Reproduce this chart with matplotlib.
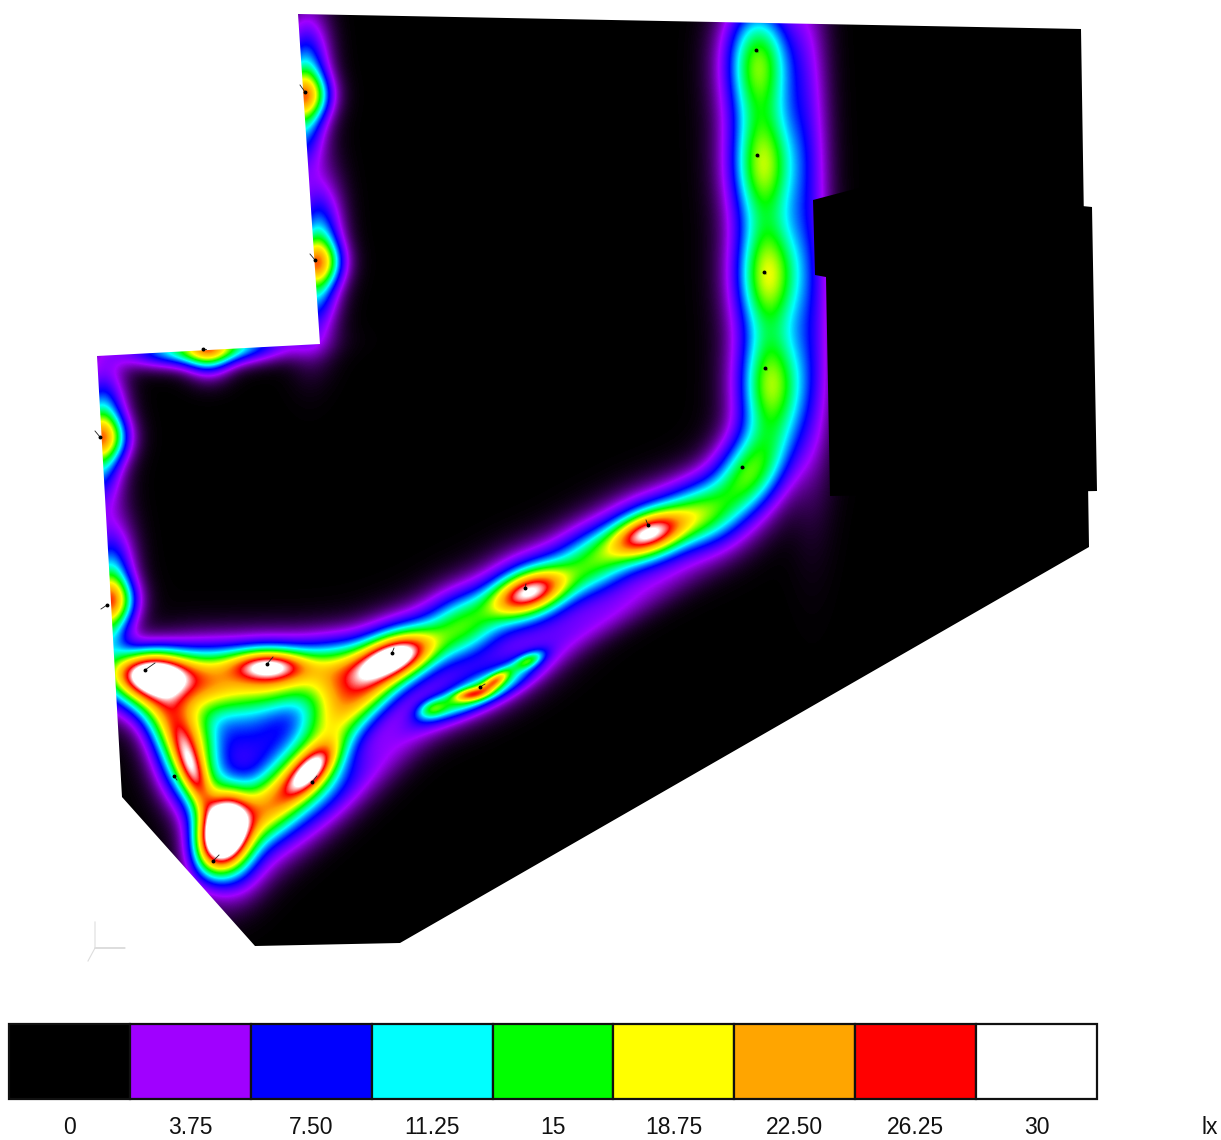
import matplotlib
matplotlib.use("Agg")
import matplotlib.pyplot as plt
import numpy as np
from matplotlib.colors import LinearSegmentedColormap
from matplotlib.patches import Polygon, Rectangle

# legend steps in lux
level_labels = ["0", "3.75", "7.50", "11.25", "15", "18.75", "22.50", "26.25", "30"]
level_values = [0, 3.75, 7.5, 11.25, 15, 18.75, 22.5, 26.25, 30]
level_colors = ["#000000", "#a000ff", "#0000ff", "#00ffff", "#00ff00",
                "#ffff00", "#ffa500", "#ff0000", "#ffffff"]

# floor outline and the unlit block, in picture pixels
floor_x = [298, 1081, 1089, 400, 255, 122, 97, 320]
floor_y = [14, 29, 547, 943, 946, 797, 356, 344]
block_x = [813, 870, 1092, 1097, 830, 826, 815]
block_y = [200, 185, 207, 491, 496, 277, 275]

# light pools: centre, peak lux, spread along/across, angle
# corridor, vertical run then the diagonal run
pool_x = [758, 763, 768, 771, 748, 702, 650, 592, 530, 462, 398]
pool_y = [62, 165, 275, 385, 475, 512, 533, 562, 592, 625, 655]
pool_peak = [15, 15.5, 16.5, 15.5, 14, 8, 13.5, 9, 13.5, 11, 14]
pool_long = [60, 60, 60, 58, 52, 34, 52, 38, 52, 38, 50]
pool_short = [33, 33, 33, 33, 33, 33, 34, 33, 34, 33, 32]
pool_angle = [90, 90, 90, 90, 58, 30, 22, 25, 24, 24, 20]
# hot spots on the diagonal run
pool_x += [648, 528, 395]
pool_y += [533, 592, 656]
pool_peak += [15, 15, 15]
pool_long += [38, 38, 38]
pool_short += [18, 18, 18]
pool_angle += [20, 20, 20]
# triangle at the lower left: top ridge, right ridge, left arm, dim centre
pool_x += [335, 268, 205, 150, 150, 268, 365, 310, 310, 265, 170, 190, 192, 224, 222, 250, 330, 195]
pool_y += [672, 676, 682, 682, 672, 665, 695, 770, 770, 810, 720, 770, 770, 835, 832, 732, 715, 735]
pool_peak += [13, 15, 15, 17, 17, 14, 10, 15, 13, 16, 12, 14, 10, 17, 24, 6, 9, 5]
pool_long += [44, 46, 42, 40, 38, 38, 50, 46, 32, 44, 38, 44, 40, 42, 38, 50, 40, 30]
pool_short += [32, 32, 34, 30, 20, 15, 26, 30, 14, 28, 26, 28, 12, 28, 22, 48, 28, 24]
pool_angle += [0, 0, 0, 0, 0, 0, 50, 47, 47, 47, -65, -68, -70, -80, 70, 0, 50, -65]
# isolated pool below the corridor
pool_x += [480, 470, 495, 432, 528, 480]
pool_y += [692, 694, 680, 708, 660, 690]
pool_peak += [9, 9, 9, 7, 8, 4.5]
pool_long += [52, 18, 16, 16, 16, 70]
pool_short += [13, 6, 6, 9, 7, 26]
pool_angle += [25, 10, 35, 20, 25, 25]
# wall lights, one ellipse along the wall and one across it
pool_x += [303, 305, 316, 317, 100, 103, 108, 111, 205, 208]
pool_y += [95, 95, 262, 262, 437, 437, 600, 600, 348, 350]
pool_peak += [13, 10, 13, 10, 13, 10, 14, 10, 14, 9]
pool_long += [66, 24, 66, 24, 60, 24, 62, 24, 70, 24]
pool_short += [22, 22, 22, 22, 22, 22, 22, 22, 16, 22]
pool_angle += [87, 0, 87, 0, 87, 0, 87, 0, 3, 90]
# faint glow on the open side of the corridor
pool_x += [806, 812, 575, 345]
pool_y += [120, 330, 632, 790]
pool_peak += [3.5, 3.5, 3, 3.5]
pool_long += [150, 150, 130, 140]
pool_short += [22, 22, 20, 24]
pool_angle += [90, 90, 28, 42]

# small luminaire symbols
lum_x = [305, 315, 100, 107, 203, 145, 267, 392, 525, 648, 742, 765, 764, 757, 756, 312, 174, 213, 480]
lum_y = [92, 260, 437, 605, 349, 670, 664, 653, 588, 525, 467, 368, 272, 155, 50, 782, 776, 861, 687]
lum_dx = [-5, -5, -5, -6, 3, 10, 6, 2, 1, -2, 2, 2, 2, 2, 2, 5, 3, 6, 5]
lum_dy = [-7, -6, -6, 4, 0, -7, -7, -5, -4, -5, 1, 2, 2, 2, 2, -6, 4, -6, -3]

# axis triad at the lower left
triad_x = [95, 95, 125, 95, 88]
triad_y = [922, 948, 948, 948, 961]


def lux_field(xx, yy):
    total = np.zeros_like(xx, dtype=float)
    for x, y, peak, slong, sshort, ang in zip(pool_x, pool_y, pool_peak, pool_long, pool_short, pool_angle):
        a = np.radians(ang)
        # y grows downward in the picture
        u = (xx - x) * np.cos(a) - (yy - y) * np.sin(a)
        v = (xx - x) * np.sin(a) + (yy - y) * np.cos(a)
        r2 = (u / slong) ** 2 + (v / sshort) ** 2
        total += peak * np.exp(-r2) + 0.05 * peak / (1 + r2) ** 2
    return total


def main():
    fig = plt.figure(figsize=(12.21, 11.40), dpi=100)
    ax = fig.add_axes([0, 0, 1, 1])
    ax.set_xlim(0, 1221)
    ax.set_ylim(1140, 0)
    ax.axis("off")

    stops = [v / level_values[-1] for v in level_values]
    cmap = LinearSegmentedColormap.from_list("dialux", list(zip(stops, level_colors)), N=512)

    gx = np.arange(0, 1221)
    gy = np.arange(0, 1000)
    xx, yy = np.meshgrid(gx, gy)
    im = ax.imshow(lux_field(xx, yy), extent=(0, 1221, 1000, 0), cmap=cmap, vmin=0, vmax=30,
                   interpolation="bilinear", aspect="auto", zorder=1)
    floor = Polygon(np.column_stack([floor_x, floor_y]), closed=True, transform=ax.transData,
                    facecolor="none", edgecolor="none")
    ax.add_patch(floor)
    im.set_clip_path(floor)
    ax.set_xlim(0, 1221)
    ax.set_ylim(1140, 0)

    ax.add_patch(Polygon(np.column_stack([block_x, block_y]), closed=True, facecolor="#000000",
                         edgecolor="none", zorder=2))

    # luminaire symbols
    for x, y, dx, dy in zip(lum_x, lum_y, lum_dx, lum_dy):
        ax.plot([x, x + dx], [y, y + dy], color="#202020", lw=0.6, zorder=3)
        ax.plot([x], [y], marker="o", ms=1.8, color="#000000", zorder=3)

    ax.plot(triad_x, triad_y, color="#dddddd", lw=0.8, zorder=3)

    # legend bar
    bar_left = 9
    bar_width = (1097 - 9) / len(level_colors)
    for i, (col, lab) in enumerate(zip(level_colors, level_labels)):
        ax.add_patch(Rectangle((bar_left + i * bar_width, 1024), bar_width, 75, facecolor=col,
                               edgecolor="#101010", lw=1.6, zorder=2))
        ax.text(bar_left + (i + 0.5) * bar_width, 1127, lab, ha="center", va="center",
                fontsize=16.5, family="Liberation Sans", color="#111111")
    ax.text(1210, 1127, "lx", ha="center", va="center", fontsize=16.5,
            family="Liberation Sans", color="#111111")

    fig.savefig("out.png", dpi=100)


if __name__ == "__main__":
    main()
